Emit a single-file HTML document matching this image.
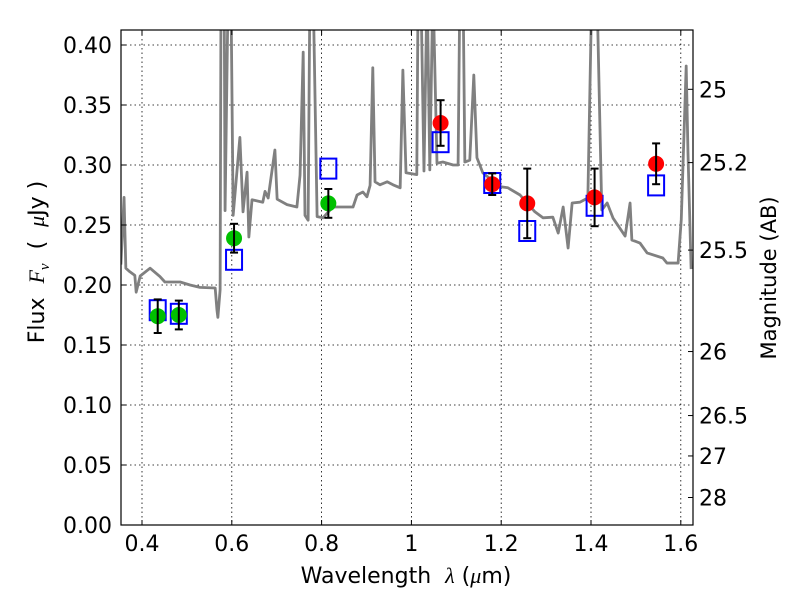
<!DOCTYPE html>
<html><head><meta charset="utf-8"><style>
body{margin:0;background:#fff;}
svg{display:block;font-family:"DejaVu Sans","Liberation Sans",sans-serif;}
text{white-space:pre;}
</style></head><body>
<svg id="chart" width="800" height="600" viewBox="0 0 800 600">
<defs><clipPath id="pa"><rect x="121" y="30" width="572" height="495"/></clipPath></defs>
<rect x="0" y="0" width="800" height="600" fill="#fff"/>
<g id="grid"></g>
<g id="spec" clip-path="url(#pa)"></g>
<g id="marks"></g>
<rect x="121" y="30" width="572" height="495" fill="none" stroke="#000" stroke-width="1.2"/>
<g id="axes"></g>
<text x="406" y="583" font-size="22" text-anchor="middle">Wavelength  <tspan font-style="italic" font-family="Liberation Serif,serif">λ</tspan> (<tspan font-style="italic" font-family="Liberation Serif,serif">μ</tspan>m)</text>
<text transform="translate(44,262) rotate(-90)" font-size="22" text-anchor="middle">Flux  <tspan font-style="italic" font-family="Liberation Serif,serif">F</tspan><tspan font-style="italic" font-size="15" dy="5" font-family="Liberation Serif,serif">ν</tspan><tspan dy="-5">  (  <tspan font-style="italic" font-family="Liberation Serif,serif">μ</tspan>Jy )</tspan></text>
<text transform="translate(776,278) rotate(-90)" font-size="21" text-anchor="middle">Magnitude (AB)</text>
</svg>
<script>
const xTicks=[0.4,0.6,0.8,1.0,1.2,1.4,1.6];
const xTickLabels=["0.4","0.6","0.8","1","1.2","1.4","1.6"];
const yTicks=[0,0.05,0.1,0.15,0.2,0.25,0.3,0.35,0.4];
const yTickLabels=["0.00","0.05","0.10","0.15","0.20","0.25","0.30","0.35","0.40"];
const magTicks=[25,25.2,25.5,26,26.5,27,28];
const magTickLabels=["25","25.2","25.5","26","26.5","27","28"];
const specWl=[0.353,0.360,0.364,0.373,0.384,0.387,0.396,0.418,0.440,0.451,0.485,0.507,0.529,0.563,0.567,0.569,0.574,0.576,0.583,0.585,0.592,0.598,0.603,0.618,0.625,0.634,0.638,0.645,0.669,0.674,0.681,0.696,0.701,0.723,0.745,0.752,0.759,0.763,0.770,0.774,0.781,0.790,0.803,0.825,0.870,0.879,0.892,0.901,0.908,0.914,0.919,0.930,0.946,0.959,0.975,0.981,0.988,1.012,1.015,1.021,1.028,1.035,1.041,1.048,1.057,1.070,1.093,1.104,1.108,1.115,1.119,1.130,1.139,1.146,1.159,1.197,1.215,1.242,1.275,1.293,1.315,1.327,1.338,1.349,1.358,1.375,1.393,1.402,1.413,1.424,1.436,1.449,1.476,1.487,1.491,1.509,1.525,1.560,1.569,1.594,1.601,1.612,1.616,1.623];
const specFlux=[0.217,0.273,0.214,0.211,0.208,0.194,0.2075,0.214,0.207,0.2025,0.2025,0.200,0.198,0.1975,0.179,0.173,0.196,0.45,0.45,0.262,0.45,0.45,0.258,0.323,0.261,0.294,0.24,0.271,0.269,0.278,0.2725,0.3125,0.2715,0.267,0.265,0.2915,0.394,0.258,0.254,0.45,0.45,0.257,0.256,0.265,0.265,0.275,0.2775,0.2735,0.283,0.381,0.286,0.2835,0.286,0.2835,0.281,0.379,0.2935,0.292,0.45,0.45,0.295,0.45,0.296,0.45,0.3015,0.3025,0.300,0.300,0.45,0.45,0.3025,0.304,0.375,0.306,0.2935,0.282,0.281,0.275,0.261,0.256,0.2565,0.2433,0.265,0.2308,0.2683,0.269,0.2725,0.45,0.45,0.2625,0.2683,0.2558,0.2408,0.2683,0.2375,0.235,0.2267,0.2225,0.2183,0.2183,0.2542,0.3825,0.31,0.2133];
const greenWl=[0.435,0.482,0.605,0.815];
const greenFlux=[0.174,0.175,0.239,0.268];
const greenErr=[0.014,0.012,0.012,0.012];
const redWl=[1.065,1.18,1.258,1.408,1.545];
const redFlux=[0.335,0.284,0.268,0.273,0.301];
const redErr=[0.019,0.009,0.029,0.024,0.017];
const modelWl=[0.435,0.482,0.605,0.815,1.065,1.18,1.258,1.408,1.545];
const modelFlux=[0.179,0.176,0.221,0.297,0.319,0.285,0.245,0.266,0.283];

const X=v=>142+(v-0.4)*449;
const Y=v=>525-v*1200;
const NS="http://www.w3.org/2000/svg";
function mk(tag,attrs,parent){const e=document.createElementNS(NS,tag);for(const k in attrs)e.setAttribute(k,attrs[k]);parent.appendChild(e);return e;}
const grid=document.getElementById('grid'),axes=document.getElementById('axes');
xTicks.forEach((t,i)=>{
  const l=mk('line',{x1:X(t),x2:X(t),y1:30,y2:525,stroke:'#000','stroke-width':0.8,'stroke-dasharray':'1.5,3'},grid);
  
  
  mk('line',{x1:X(t),x2:X(t),y1:525,y2:520,stroke:'#000'},axes);
  mk('line',{x1:X(t),x2:X(t),y1:30,y2:35,stroke:'#000'},axes);
  const tx=mk('text',{x:X(t),y:551,'font-size':22,'text-anchor':'middle'},axes);
  tx.textContent=xTickLabels[i];
  
  
});
yTicks.forEach((t,i)=>{
  const l=mk('line',{x1:121,x2:693,y1:Y(t),y2:Y(t),stroke:'#000','stroke-width':0.8,'stroke-dasharray':'1.5,3'},grid);
  
  
  mk('line',{x1:121,x2:126,y1:Y(t),y2:Y(t),stroke:'#000'},axes);
  const tx=mk('text',{x:112,y:Y(t)+8,'font-size':22,'text-anchor':'end'},axes);
  tx.textContent=yTickLabels[i];
  
  
});
magTicks.forEach((m,i)=>{
  const f=Math.pow(10,(23.9-m)/2.5);
  const y=Y(f);
  mk('line',{x1:688,x2:693,y1:y,y2:y,stroke:'#000'},axes);
  const tx=mk('text',{x:699,y:y+8,'font-size':22},axes);
  tx.textContent=magTickLabels[i];
  
  
});
const spec=document.getElementById('spec');
const p=mk('polyline',{points:specWl.map((w,i)=>X(w)+','+Y(specFlux[i])).join(' '),fill:'none',stroke:'#808080','stroke-width':2.8,'stroke-linejoin':'round'},spec);


const marks=document.getElementById('marks');
modelWl.forEach((w,i)=>{
  const r=mk('rect',{x:X(w)-8,y:Y(modelFlux[i])-10,width:16,height:20,fill:'none',stroke:'#0000ff','stroke-width':2},marks);
  
  
});
function pts(wl,fl,er,col,name){
  wl.forEach((w,i)=>{
    const c=mk('circle',{cx:X(w),cy:Y(fl[i]),r:8,fill:col},marks);
    
    
  });
  wl.forEach((w,i)=>{
    const x=X(w),y1=Y(fl[i]-er[i]),y2=Y(fl[i]+er[i]);
    const g=mk('g',{stroke:'#000','stroke-width':2},marks);
    
    
    mk('line',{x1:x,x2:x,y1:y1,y2:y2},g);
    mk('line',{x1:x-4,x2:x+4,y1:y1,y2:y1},g);
    mk('line',{x1:x-4,x2:x+4,y1:y2,y2:y2},g);
  });
}
pts(greenWl,greenFlux,greenErr,'#00c000','green-point');
pts(redWl,redFlux,redErr,'#ff0000','red-point');
</script>
</body></html>
